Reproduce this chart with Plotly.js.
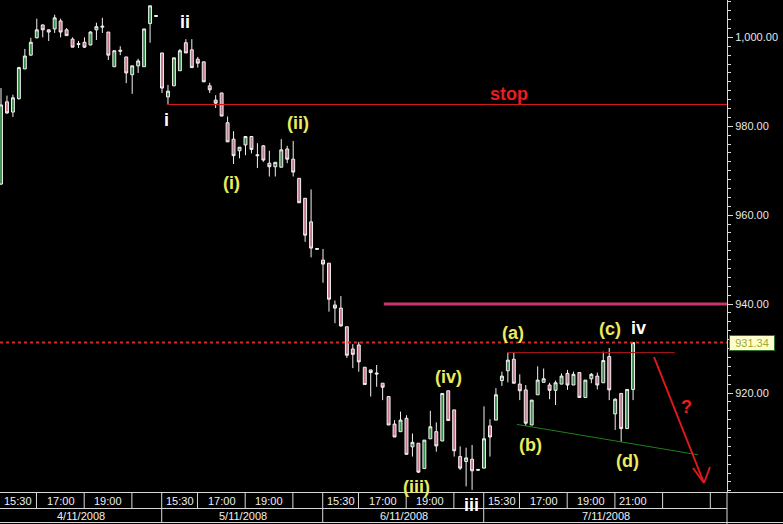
<!DOCTYPE html>
<html><head><meta charset="utf-8">
<script src="https://cdn.plot.ly/plotly-3.0.1.min.js"></script>
<style>html,body{margin:0;padding:0;background:#000;}#chart{width:783px;height:524px;}</style>
</head><body><div id="chart"></div>
<script>
// ---- data (15-minute bars, S&P 500, 4/11/2008 - 7/11/2008) ----
const days = ['4/11/2008', '5/11/2008', '6/11/2008', '7/11/2008'];
const barsPerDay = 27;
const timeLabels = ['15:30', '17:00', '19:00', '21:00'];
const timeOffsets = [0, 6, 14, 22];
const extraSlots = [30, 38]; // unlabeled future time cells on last day

const openP = [
  967.0, 985.5, 983.2, 986.2, 992.9, 996.0, 999.9, 1002.8, 1001.7, 1001.9, 1003.7, 1001.7, 999.6, 998.6,
  998.9, 998.3, 1001.7, 1002.3, 1001.2, 993.4, 997.1, 995.6, 991.6, 993.6, 993.4, 1003.1, 1004.7,
  996.5, 986.6, 989.1, 992.5, 998.8, 997.2, 995.1, 994.5, 989.1, 985.9, 987.5, 980.8, 977.1, 974.5,
  975.8, 977.7, 973.6, 975.6, 971.7, 970.9, 970.8, 974.9, 972.6, 968.3, 963.8, 958.5, 952.3,
  949.9, 949.2, 939.8, 939.1, 934.9, 929.9, 930.8, 925.8, 925.2, 924.5, 922.2, 919.2, 913.0, 911.3,
  914.3, 907.9, 908.7, 903.0, 909.7, 911.3, 909.2, 920.5, 916.2, 905.7, 904.6, 905.1, 902.6,
  903.1, 912.6, 913.9, 922.8, 925.0, 927.6, 922.0, 920.7, 912.8, 919.6, 922.4, 921.8, 920.6, 922.0,
  924.4, 921.8, 924.6, 919.0, 923.2, 923.8, 922.3, 928.2, 915.3, 919.9, 912.0, 920.8
];
const highP = [
  988.6, 986.9, 987.1, 993.4, 997.4, 999.9, 1004.2, 1002.9, 1001.8, 1005.1, 1004.2, 1002.1, 1000.0, 999.2,
  1000.0, 1001.4, 1003.3, 1004.4, 1001.2, 997.0, 998.0, 995.6, 993.6, 995.2, 1001.9, 1007.1, 1004.9,
  996.5, 989.3, 995.4, 997.4, 999.6, 999.6, 995.6, 994.5, 989.8, 987.0, 987.5, 982.2, 978.9, 975.3,
  977.8, 977.7, 976.2, 975.8, 974.5, 971.9, 977.1, 975.6, 976.7, 968.3, 963.8, 965.8, 952.5,
  952.4, 949.2, 940.8, 941.8, 934.9, 931.0, 931.5, 925.8, 925.2, 926.3, 922.2, 919.2, 913.9, 915.8,
  915.0, 910.9, 908.7, 909.4, 916.0, 913.4, 919.9, 920.5, 916.2, 908.0, 907.7, 908.3, 902.8,
  917.0, 914.1, 921.1, 924.8, 929.1, 929.2, 924.2, 921.8, 918.4, 926.0, 925.5, 922.3, 922.8, 924.4,
  925.2, 924.8, 924.6, 922.9, 924.5, 924.6, 929.3, 930.1, 918.8, 919.9, 920.8, 931.34
];
const lowP = [
  966.8, 982.8, 982.1, 986.0, 992.9, 995.9, 999.8, 1000.0, 999.2, 1001.0, 1000.0, 1000.4, 997.8, 997.6,
  997.6, 998.2, 999.4, 1001.0, 994.9, 993.4, 996.0, 989.7, 987.3, 992.0, 993.4, 998.8, 1004.7,
  987.5, 984.9, 989.1, 992.5, 996.5, 993.2, 993.2, 990.0, 987.5, 984.1, 982.3, 976.5, 971.5, 972.8,
  973.5, 973.9, 970.6, 972.0, 968.7, 968.7, 970.8, 971.7, 968.7, 962.8, 954.0, 950.5, 952.3,
  944.8, 938.3, 935.7, 934.9, 927.9, 925.6, 924.8, 921.9, 919.2, 921.4, 918.4, 912.8, 910.1, 911.3,
  906.2, 905.7, 902.0, 903.0, 909.7, 906.8, 909.2, 913.8, 905.7, 902.7, 899.0, 898.2, 902.6,
  903.1, 905.7, 913.9, 921.6, 922.4, 922.2, 918.4, 912.6, 912.8, 919.6, 922.4, 918.6, 917.3, 922.0,
  920.7, 921.8, 919.0, 919.0, 922.2, 920.8, 922.3, 918.4, 911.7, 909.0, 912.0, 918.4
];
const closeP = [
  984.8, 983.0, 986.4, 993.2, 995.8, 998.9, 1001.7, 1001.7, 1001.2, 1004.4, 1001.2, 1000.4, 997.8, 998.4,
  997.8, 1001.2, 1002.4, 1002.5, 996.0, 997.0, 996.9, 992.0, 993.6, 994.7, 1001.9, 1007.1, 1004.9,
  988.6, 987.9, 995.4, 997.0, 996.5, 993.2, 994.2, 990.0, 988.2, 985.2, 982.3, 976.5, 973.4, 975.3,
  977.7, 974.8, 973.4, 972.4, 970.9, 971.9, 974.7, 972.6, 969.7, 962.8, 955.5, 952.6, 952.5,
  949.0, 941.1, 939.1, 935.1, 928.5, 928.7, 927.0, 921.9, 924.6, 924.3, 921.3, 912.8, 910.1, 913.9,
  906.2, 908.9, 902.2, 909.4, 912.4, 908.1, 919.9, 913.8, 907.0, 903.1, 905.4, 902.5, 902.8,
  909.7, 910.1, 919.6, 923.8, 927.4, 922.2, 920.5, 913.2, 918.4, 922.9, 923.2, 920.6, 922.3, 923.8,
  921.8, 924.2, 919.0, 922.9, 924.2, 921.8, 927.3, 920.7, 918.6, 912.0, 920.8, 931.34
];
const targetLevel = 940;      // magenta level
const waveI = 28, waveA = 85, waveB = 88, waveD = 104; // bar indices of marked swings

// ---- geometry ----
const W = 783, H = 524, plotW = 727, plotH = 492;
const xRange = [-0.168, 121.75];
const yRange = [897.73, 1008.41];
const px = v => v / plotW;                 // pixel -> paper x
const py = v => (plotH - v) / plotH;        // pixel -> paper y

const N = closeP.length;
const idx = Array.from({length: N}, (_, i) => i);
const lastPrice = closeP[N - 1];

const trace = {
  type: 'candlestick', x: idx, open: openP, high: highP, low: lowP, close: closeP,
  increasing: {line: {color: '#f2f2f2', width: 1}, fillcolor: '#3d8b4a'},
  decreasing: {line: {color: '#f2f2f2', width: 1}, fillcolor: '#c4788a'},
  whiskerwidth: 0, hoverinfo: 'skip', showlegend: false
};

const shapes = [];
const annotations = [];
const gridCol = '#d8d8d8';
const hline = (x0, x1, yp, color, width, dash) => shapes.push({type: 'line', xref: 'paper', yref: 'paper', x0, x1, y0: yp, y1: yp, line: {color, width, dash: dash || 'solid'}, layer: 'above'});

// stop line from wave i low
shapes.push({type: 'line', xref: 'x', yref: 'y', x0: waveI - 0.1, x1: xRange[1], y0: lowP[waveI], y1: lowP[waveI], line: {color: '#d41818', width: 1}});
// magenta level
shapes.push({type: 'line', xref: 'x', yref: 'y', x0: 64.2, x1: xRange[1], y0: targetLevel, y1: targetLevel, line: {color: '#c8326e', width: 3}});
// last price dotted
shapes.push({type: 'line', xref: 'paper', yref: 'y', x0: 0, x1: 1, y0: lastPrice, y1: lastPrice, line: {color: '#d42a2a', width: 2, dash: 'dot'}});
// (a)-(c) line
shapes.push({type: 'line', xref: 'x', yref: 'y', x0: 84.9, x1: 113.0, y0: highP[waveA], y1: highP[waveA], line: {color: '#a81818', width: 1}});
// (b)-(d) trendline
const slope = (lowP[waveD] - lowP[waveB]) / (waveD - waveB);
shapes.push({type: 'line', xref: 'x', yref: 'y', x0: 86.5, x1: 116.9, y0: lowP[waveB] + slope * (86.5 - waveB), y1: lowP[waveB] + slope * (116.9 - waveB), line: {color: '#1f7f1f', width: 1}});
// red arrow
const arrowCol = '#e01a1a';
[[654, 357, 704, 483], [693, 468, 704, 483], [710, 467, 704, 483]].forEach(s => {
  shapes.push({type: 'line', xref: 'paper', yref: 'paper', x0: px(s[0]), y0: py(s[1]), x1: px(s[2]), y1: py(s[3]), line: {color: arrowCol, width: 2}});
});

// ---- time axis table ----
hline(0, px(W), py(492.5), gridCol, 1);
hline(0, 1, py(508.5), gridCol, 1);
hline(0, px(W), py(522.5), gridCol, 1);
// y axis line extension
shapes.push({type: 'line', xref: 'paper', yref: 'paper', x0: 1, x1: 1, y0: py(492), y1: py(H), line: {color: gridCol, width: 1}});
const vline = (xi, y0, y1) => shapes.push({type: 'line', xref: 'x', yref: 'paper', x0: xi, x1: xi, y0: py(y0), y1: py(y1), line: {color: gridCol, width: 1}});
const txt = (text, x, yp, xref) => annotations.push({text, x, y: yp, xref: xref || 'x', yref: 'paper', showarrow: false, xanchor: 'center', yanchor: 'middle', font: {family: 'Arial, Liberation Sans, sans-serif', size: 11, color: '#f0f0f0'}});

days.forEach((d, di) => {
  const start = di * barsPerDay;
  const isLast = di === days.length - 1;
  if (di > 0) vline(start - 0.05, 492.5, 522.5);
  const dayEnd = isLast ? xRange[1] : start + barsPerDay;
  const dayStart = di === 0 ? xRange[0] : start;
  txt(d, (dayStart + dayEnd) / 2, py(515.5));
  timeOffsets.forEach((off, ti) => {
    const x0 = start + off;
    if (ti > 0) vline(x0 - 0.05, 492.5, 508.5);
    const next = ti < timeOffsets.length - 1 ? timeOffsets[ti + 1] : 28;
    const left = (di === 0 && ti === 0) ? xRange[0] : x0;
    if (ti < 3 || isLast) txt(timeLabels[ti], (left + start + next) / 2, py(500.5));
  });
  if (isLast) extraSlots.forEach(off => vline(start + off - 0.05, 492.5, 508.5));
});

// last price box
annotations.push({text: lastPrice.toFixed(2), xref: 'paper', yref: 'y', x: px(729), y: lastPrice, xanchor: 'left', yanchor: 'middle', showarrow: false,
  bgcolor: '#ffffcc', bordercolor: '#2f6f2f', borderwidth: 1, borderpad: 1, width: 42,
  font: {family: 'Arial, Liberation Sans, sans-serif', size: 11, color: '#a0a630'}});

// wave labels
const yellow = '#ecea5e', white = '#ffffff', red = '#ee1c1c';
const labels = [
  ['i', 166, 120, white], ['ii', 185, 22, white], ['(i)', 232, 183, yellow], ['(ii)', 298, 123, yellow],
  ['(iii)', 416, 487, yellow], ['iii', 472, 505, white], ['(iv)', 448, 377, yellow], ['(a)', 513, 333, yellow],
  ['(b)', 530, 445, yellow], ['(c)', 610, 329, yellow], ['iv', 638, 328, white], ['(d)', 627, 461, yellow],
  ['stop', 509, 94, red], ['?', 686, 407, red]
];
labels.forEach(l => annotations.push({text: '<b>' + l[0] + '</b>', xref: 'paper', yref: 'paper', x: px(l[1]), y: py(l[2]),
  xanchor: 'center', yanchor: 'middle', showarrow: false, font: {family: 'Arial, Liberation Sans, sans-serif', size: 18, color: l[3]}}));

const tickVals = [920, 940, 960, 980, 1000];
const layout = {
  width: W, height: H, margin: {l: 0, r: W - plotW, t: 0, b: H - plotH},
  paper_bgcolor: '#000', plot_bgcolor: '#000', showlegend: false,
  xaxis: {range: xRange, showgrid: false, zeroline: false, showticklabels: false, ticks: '', showline: false, rangeslider: {visible: false}, fixedrange: true},
  yaxis: {side: 'right', range: yRange, showgrid: false, zeroline: false, showline: true, linecolor: gridCol, linewidth: 1,
    tickvals: tickVals, ticktext: tickVals.map(v => v.toLocaleString('en-US', {minimumFractionDigits: 2, maximumFractionDigits: 2})),
    ticks: 'outside', ticklen: 5, tickcolor: gridCol, tickwidth: 1,
    minor: {dtick: 2, tick0: 0, ticks: 'outside', ticklen: 3, tickcolor: gridCol, tickwidth: 1, showgrid: false},
    tickfont: {family: 'Arial, Liberation Sans, sans-serif', size: 11, color: '#e8e8e8'}, fixedrange: true},
  shapes, annotations
};
Plotly.newPlot('chart', [trace], layout, {displayModeBar: false, staticPlot: true});
</script>
</body></html>
